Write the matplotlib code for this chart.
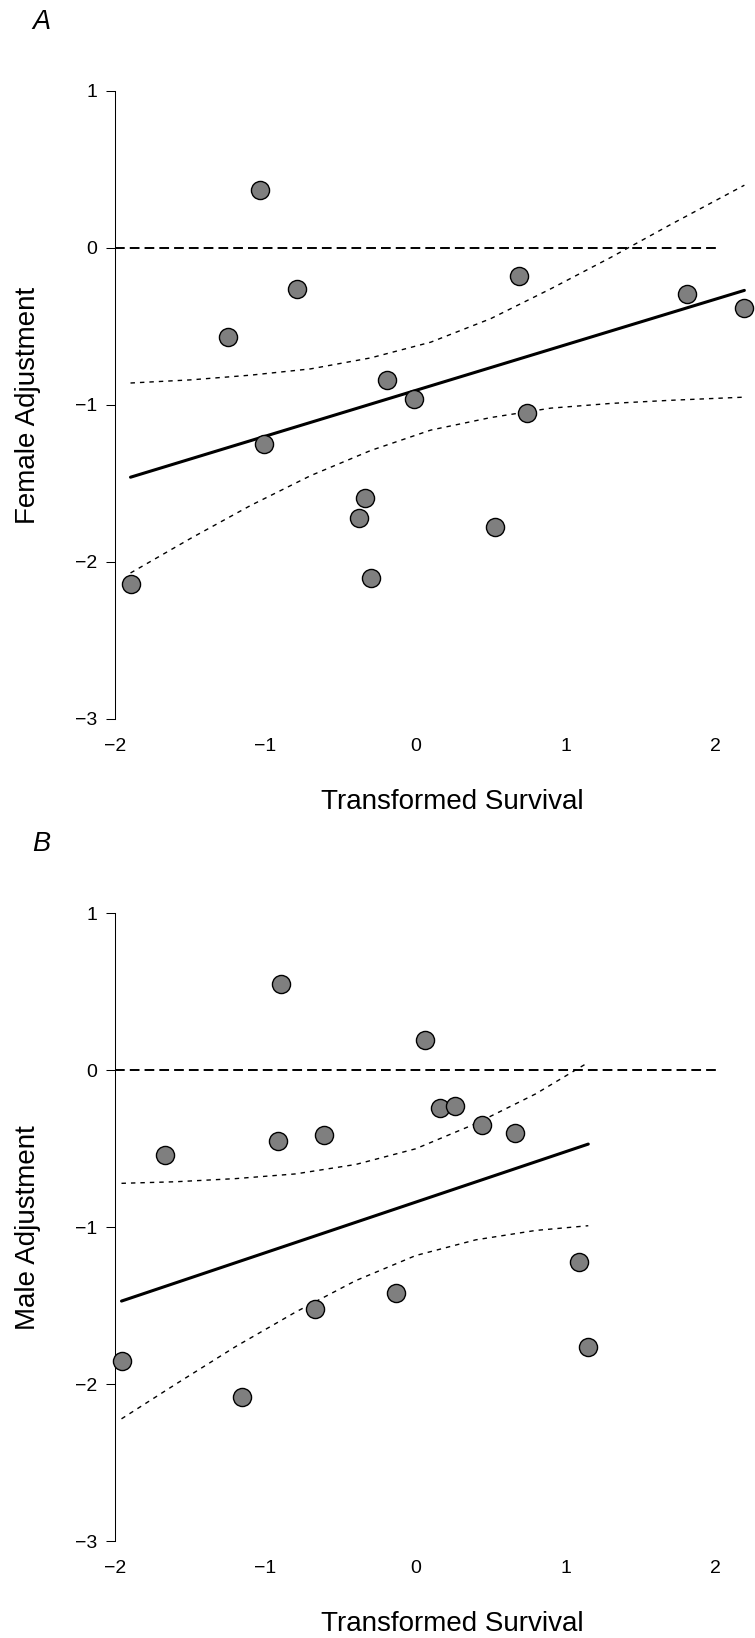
import matplotlib.pyplot as plt

plt.rcParams['font.family'] = ['Liberation Sans', 'DejaVu Sans']

# Panel A - female adjustment vs transformed survival
female_x = [-1.04, -0.79, -1.25, -0.19, -0.01, 0.69, 1.81, 2.19, 0.74, -1.01, -0.34, -0.38, 0.53, -0.30, -1.90]
female_y = [0.37, -0.26, -0.57, -0.84, -0.96, -0.18, -0.29, -0.38, -1.05, -1.25, -1.59, -1.72, -1.78, -2.10, -2.14]
female_fit_x = [-1.90, 2.19]
female_fit_y = [-1.46, -0.27]
female_band_x = [-1.90, -1.50, -1.10, -0.70, -0.30, 0.10, 0.50, 0.90, 1.30, 1.70, 2.19]
female_upper = [-0.86, -0.84, -0.81, -0.77, -0.70, -0.60, -0.45, -0.26, -0.06, 0.15, 0.40]
female_lower = [-2.07, -1.85, -1.64, -1.45, -1.29, -1.16, -1.08, -1.02, -0.99, -0.97, -0.95]

# Panel B - male adjustment vs transformed survival
male_x = [-0.90, 0.06, 0.16, 0.26, 0.44, 0.66, -0.61, -0.92, -1.67, 1.09, -0.13, -0.67, 1.15, -1.96, -1.16]
male_y = [0.55, 0.19, -0.24, -0.23, -0.35, -0.40, -0.41, -0.45, -0.54, -1.22, -1.42, -1.52, -1.76, -1.85, -2.08]
male_fit_x = [-1.96, 1.15]
male_fit_y = [-1.47, -0.47]
male_band_x = [-1.96, -1.60, -1.20, -0.80, -0.40, 0.00, 0.40, 0.80, 1.15]
male_upper = [-0.72, -0.71, -0.69, -0.66, -0.60, -0.50, -0.34, -0.15, 0.05]
male_lower = [-2.22, -2.00, -1.76, -1.54, -1.34, -1.18, -1.08, -1.02, -0.99]

x_ticks = [-2, -1, 0, 1, 2]
y_ticks = [-3, -2, -1, 0, 1]


def draw_panel(ax, px, py, fit_x, fit_y, band_x, upper, lower, ylabel):
    """Scatter with fitted line, confidence band and a zero reference line"""
    ax.hlines(0, x_ticks[0], x_ticks[-1], colors='black', linewidth=1.4,
              linestyles=(0, (5, 2.6)))
    ax.plot(band_x, upper, color='black', lw=1.0, dashes=(3.2, 3.6))
    ax.plot(band_x, lower, color='black', lw=1.0, dashes=(3.2, 3.6))
    ax.plot(fit_x, fit_y, color='black', lw=2.2, solid_capstyle='round')
    ax.scatter(px, py, s=170, facecolor='#7f7f7f', edgecolor='black',
               linewidth=1.0, zorder=3, clip_on=False)

    ax.set_xlim(-2, 2.494)
    ax.set_ylim(-3.04, 1.04)
    ax.set_xticks(x_ticks)
    ax.set_yticks(y_ticks)

    for side in ['top', 'right', 'bottom']:
        ax.spines[side].set_visible(False)
    ax.spines['left'].set_bounds(y_ticks[0], y_ticks[-1])
    ax.spines['left'].set_linewidth(0.75)

    ax.tick_params(axis='y', length=6.2, width=0.75, pad=7.2, labelsize=14)
    ax.tick_params(axis='x', length=0, pad=9.1, labelsize=14)

    ax.set_xlabel('Transformed Survival', fontsize=20)
    ax.xaxis.set_label_coords(0.5, -0.0994)
    ax.set_ylabel(ylabel, fontsize=20)
    ax.yaxis.set_label_coords(-0.110, 0.5)


fig = plt.figure(figsize=(7.55, 16.38), dpi=100)
ax_a = fig.add_axes([0.15298, 0.55722, 0.89338, 0.39106])
ax_b = fig.add_axes([0.15298, 0.05521, 0.89338, 0.39106])

draw_panel(ax_a, female_x, female_y, female_fit_x, female_fit_y,
           female_band_x, female_upper, female_lower, 'Female Adjustment')
draw_panel(ax_b, male_x, male_y, male_fit_x, male_fit_y,
           male_band_x, male_upper, male_lower, 'Male Adjustment')

fig.text(32 / 755, 1 - 29 / 1638, 'A', fontsize=19.5, style='italic', va='baseline')
fig.text(32 / 755, 1 - 850.7 / 1638, 'B', fontsize=19.5, style='italic', va='baseline')

fig.savefig('out.png', dpi=100)
